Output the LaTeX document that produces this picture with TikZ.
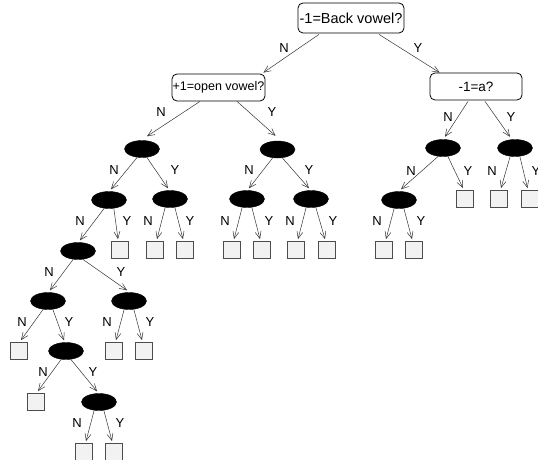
\documentclass[tikz,border=0pt]{standalone}
\usepackage{fontspec}
\setmainfont{Liberation Sans}
\usetikzlibrary{shapes.geometric,arrows.meta,calc}
\newcommand\nedge[2]{\draw[edge] (#1.240) -- ($(#2.north)+(2,-2)$);}
\newcommand\yedge[2]{\draw[edge] (#1.300) -- ($(#2.north)+(-2,-2)$);}
\begin{document}
\begin{tikzpicture}[x=1pt,y=-1pt,
 qbox/.style={draw=black,line width=0.8pt,rounded corners=5pt,inner sep=0pt},
 inode/.style={ellipse,fill=black,draw=black,minimum width=35pt,minimum height=17pt,inner sep=0pt},
 leaf/.style={draw=black!70,fill=black!5,line width=0.8pt,minimum size=17pt,inner sep=0pt},
 edge/.style={draw=black!80,line width=0.5pt,-{Straight Barb[length=7pt,width=6pt]}},
 lab/.style={font=\fontsize{13}{13}\selectfont,inner sep=0pt}]
\useasboundingbox (0,0) rectangle (538,460);
% question boxes
\node[qbox,minimum width=106pt,minimum height=30pt,font=\fontsize{14.5}{15}\selectfont] (root) at (351,18) {-1=Back vowel?};
\node[qbox,minimum width=93pt,minimum height=27pt,font=\fontsize{12.5}{13}\selectfont] (L) at (218.5,87.5) {+1=open vowel?};
\node[qbox,minimum width=92pt,minimum height=27pt,font=\fontsize{13.5}{14}\selectfont] (R) at (476,86.5) {-1=a?};
% inner nodes
\node[inode] (e1) at (142,149) {};
\node[inode] (e2) at (277.5,149.5) {};
\node[inode] (e3) at (109,200) {};
\node[inode] (e4) at (170,199) {};
\node[inode] (e5) at (78,251) {};
\node[inode] (e6) at (48,301) {};
\node[inode] (e7) at (129,301) {};
\node[inode] (e8) at (66,351) {};
\node[inode] (e9) at (99,402) {};
\node[inode] (e10) at (247,199) {};
\node[inode] (e11) at (311,199) {};
\node[inode] (e12) at (443,148) {};
\node[inode] (e13) at (515,148) {};
\node[inode] (e14) at (399,200) {};
% leaves
\node[leaf] (s1) at (120,250) {};
\node[leaf] (s2) at (155,250) {};
\node[leaf] (s3) at (185,250) {};
\node[leaf] (s4) at (19,351) {};
\node[leaf] (s5) at (114,351) {};
\node[leaf] (s6) at (144,351) {};
\node[leaf] (s7) at (36,402) {};
\node[leaf] (s8) at (84,452) {};
\node[leaf] (s9) at (114,452) {};
\node[leaf] (s10) at (232,250) {};
\node[leaf] (s11) at (262,250) {};
\node[leaf] (s12) at (296,250) {};
\node[leaf] (s13) at (327,250) {};
\node[leaf] (s14) at (465,199) {};
\node[leaf] (s15) at (499,199) {};
\node[leaf] (s16) at (529.5,199) {};
\node[leaf] (s17) at (384,250) {};
\node[leaf] (s18) at (414,250) {};
% top edges
\draw[edge] ($(root.south)+(-32,1)$) -- ($(L.north east)+(-2,-1)$);
\draw[edge] ($(root.south)+(28,1)$) -- ($(R.north west)+(10,0)$);
\draw[edge] ($(L.south)+(-18.5,0)$) -- ($(e1.north)+(5,-4)$);
\draw[edge] ($(L.south)+(18.5,0)$) -- ($(e2.north)+(-2,-5)$);
\draw[edge] ($(R.south)+(-8,1)$) -- ($(e12.north)+(2,-2.5)$);
\draw[edge] ($(R.south)+(9,1)$) -- ($(e13.north)+(-5,-2.5)$);
% other edges
\nedge{e1}{e3} \yedge{e1}{e4}
\nedge{e3}{e5} \yedge{e3}{s1}
\nedge{e4}{s2} \yedge{e4}{s3}
\nedge{e5}{e6} \yedge{e5}{e7}
\nedge{e6}{s4} \yedge{e6}{e8}
\nedge{e7}{s5} \yedge{e7}{s6}
\nedge{e8}{s7} \yedge{e8}{e9}
\nedge{e9}{s8} \yedge{e9}{s9}
\nedge{e2}{e10} \yedge{e2}{e11}
\nedge{e10}{s10} \yedge{e10}{s11}
\nedge{e11}{s12} \yedge{e11}{s13}
\nedge{e12}{e14} \yedge{e12}{s14}
\nedge{e13}{s15} \yedge{e13}{s16}
\nedge{e14}{s17} \yedge{e14}{s18}
% labels
\node[lab] (l1) at (284,48) {N};
\node[lab] (l2) at (418,48) {Y};
\node[lab] (l3) at (161,112) {N};
\node[lab] (l4) at (272,112) {Y};
\node[lab] (l5) at (448,117) {N};
\node[lab] (l6) at (511,117) {Y};
\node[lab] (l7) at (114,170) {N};
\node[lab] (l8) at (175,170) {Y};
\node[lab] (l9) at (249,170) {N};
\node[lab] (l10) at (309,170) {Y};
\node[lab] (l11) at (80,221) {N};
\node[lab] (l12) at (127,221) {Y};
\node[lab] (l13) at (148,221) {N};
\node[lab] (l14) at (190,221) {Y};
\node[lab] (l15) at (225,221) {N};
\node[lab] (l16) at (269,221) {Y};
\node[lab] (l17) at (290,221) {N};
\node[lab] (l18) at (333,221) {Y};
\node[lab] (l19) at (49,272) {N};
\node[lab] (l20) at (121,272) {Y};
\node[lab] (l21) at (22,322) {N};
\node[lab] (l22) at (69,322) {Y};
\node[lab] (l23) at (107,322) {N};
\node[lab] (l24) at (150,322) {Y};
\node[lab] (l25) at (43,372) {N};
\node[lab] (l26) at (93,372) {Y};
\node[lab] (l27) at (77,423) {N};
\node[lab] (l28) at (120,423) {Y};
\node[lab] (l29) at (411,171) {N};
\node[lab] (l30) at (468,171) {Y};
\node[lab] (l31) at (492,171) {N};
\node[lab] (l32) at (536,171) {Y};
\node[lab] (l33) at (377,221) {N};
\node[lab] (l34) at (421,221) {Y};
\end{tikzpicture}
\end{document}
